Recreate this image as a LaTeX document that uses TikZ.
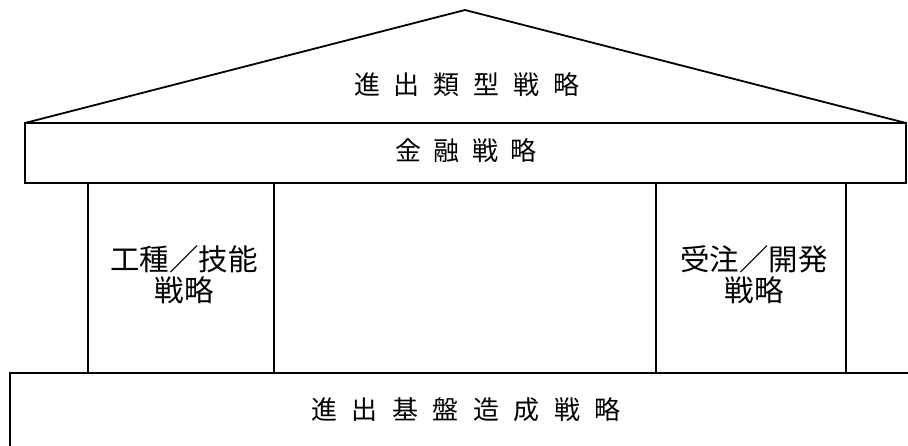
\documentclass[tikz,border=0pt]{standalone}
\usepackage{fontspec}
\newfontfamily\jp{Noto Sans CJK JP}
\begin{document}
\begin{tikzpicture}[x=1pt,y=-1pt,
  edge/.style={line width=1.8pt,black,line join=miter},
  title/.style={font=\jp\fontsize{26}{30}\selectfont,inner sep=0pt,anchor=center},
  pillartext/.style={font=\jp\fontsize{29.5}{31}\selectfont,inner sep=0pt,align=center,anchor=center}]
\useasboundingbox (0,0) rectangle (908,445);
% roof
\coordinate (rl) at (25,123);
\coordinate (ra) at (465,10);
\coordinate (rr) at (906,123);
\draw[edge] (rl) -- (ra) -- (rr);
% finance beam
\draw[edge] (25,123) rectangle (906,183);
% pillars
\draw[edge] (88,183) -- (88,373);
\draw[edge] (274,183) -- (274,373);
\draw[edge] (656,183) -- (656,373);
\draw[edge] (846,183) -- (846,373);
% base
\draw[edge] (910,373) -- (10,373) -- (10,447);
% texts
\node[title] (t1) at (467,85) {進\hspace{14pt}出\hspace{14pt}類\hspace{14pt}型\hspace{14pt}戦\hspace{14pt}略};
\node[title] (t2) at (466,151) {金\hspace{12.5pt}融\hspace{12.5pt}戦\hspace{12.5pt}略};
\node[pillartext] (t3) at (184,275) {工種／技能\\戦略};
\node[pillartext] (t4) at (754,275) {受注／開発\\戦略};
\node[title] (t5) at (466,410) {進\hspace{14.5pt}出\hspace{14.5pt}基\hspace{14.5pt}盤\hspace{14.5pt}造\hspace{14.5pt}成\hspace{14.5pt}戦\hspace{14.5pt}略};
\end{tikzpicture}
\end{document}
